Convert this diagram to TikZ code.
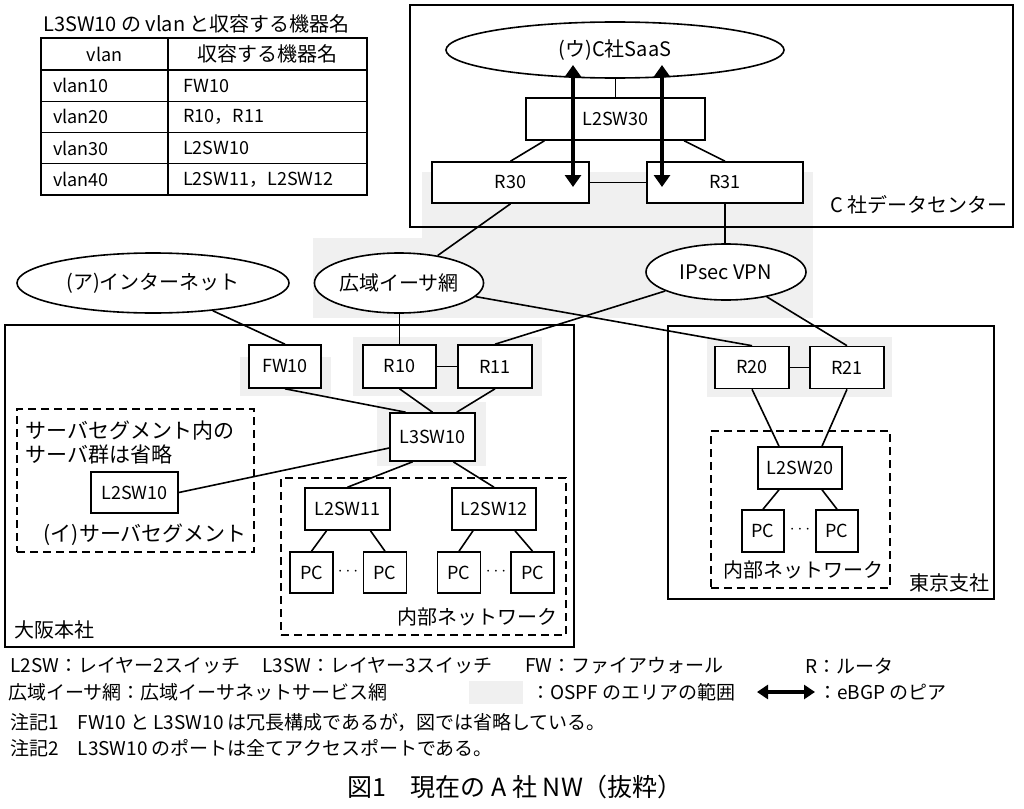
\documentclass[tikz,border=0pt]{standalone}
\usepackage{fontspec}
\setmainfont{Noto Sans CJK JP}
\usetikzlibrary{arrows.meta,calc,shapes.geometric}
\begin{document}
\begin{tikzpicture}[x=1pt,y=-1pt]
\tikzset{
  lbl/.style={inner sep=0pt, font=\fontsize{18}{22}\selectfont},
  jp/.style={inner sep=0pt, font=\fontsize{20}{24}\selectfont},
  lg/.style={inner sep=0pt, font=\fontsize{19}{22}\selectfont},
  dev/.style={draw, line width=1.6pt, fill=white, inner sep=0pt, font=\fontsize{18}{22}\selectfont},
  cloud/.style={draw, ellipse, line width=1.6pt, fill=white, inner sep=0pt, font=\fontsize{20}{24}\selectfont},
  link/.style={line width=1.6pt},
  area/.style={draw, line width=1.6pt, inner sep=0pt},
  dbox/.style={draw, line width=1.6pt, dash pattern=on 8pt off 5pt, inner sep=0pt},
  ospf/.style={fill=black!6, draw=none},
  peer/.style={line width=3.5pt, {Triangle[length=12pt,width=16pt]}-{Triangle[length=12pt,width=16pt]}},
}
\useasboundingbox (0,0) rectangle (1024,808);
\fill[white] (0,0) rectangle (1024,808);

% OSPF area shading
\fill[ospf] (422,172) rectangle (813,240);
\fill[ospf] (313,238) rectangle (813,318);
\fill[ospf] (240,357) rectangle (331,396);
\fill[ospf] (353,337) rectangle (542,396);
\fill[ospf] (377,402) rectangle (486,466);
\fill[ospf] (707,337) rectangle (892,397);

% table
\node[jp, anchor=west] (ttl) at (43,24) {L3SW10 の vlan と収容する機器名};
\draw[line width=1.6pt] (41,38) rectangle (367,195);
\draw[line width=1.2pt] (168,38) -- (168,195);
\foreach \yy in {70,101.25,132.5,163.75} \draw[line width=1.2pt] (41,\yy) -- (367,\yy);
\node[lbl] (th1) at (104.5,54) {vlan};
\node[jp] (th2) at (267.5,54) {収容する機器名};
\node[lbl, anchor=west] (c11) at (53,85.6) {vlan10};
\node[lbl, anchor=west] (c12) at (183,85.6) {FW10};
\node[lbl, anchor=west] (c21) at (53,116.9) {vlan20};
\node[lbl, anchor=west] (c22) at (183,116.9) {R10，R11};
\node[lbl, anchor=west] (c31) at (53,148.1) {vlan30};
\node[lbl, anchor=west] (c32) at (183,148.1) {L2SW10};
\node[lbl, anchor=west] (c41) at (53,179.4) {vlan40};
\node[lbl, anchor=west] (c42) at (183,179.4) {L2SW11，L2SW12};

% containers
\node[area, minimum width=603pt, minimum height=222pt] (dc) at (711.5,116) {};
\node[area, minimum width=569pt, minimum height=322pt] (osaka) at (289.5,486) {};
\node[area, minimum width=326pt, minimum height=273pt] (tokyo) at (831,462.5) {};
\node[dbox, minimum width=237pt, minimum height=143pt] (srvseg) at (135.5,480.5) {};
\node[dbox, minimum width=285pt, minimum height=157pt] (inner1) at (423.5,556.5) {};
\node[dbox, minimum width=179pt, minimum height=157pt] (inner2) at (800.5,509.5) {};

% data center
\node[cloud, minimum width=338pt, minimum height=56pt] (saas) at (615,50) {(ウ)C社SaaS};
\node[dev, minimum width=179pt, minimum height=42pt] (l2sw30) at (615.5,119) {L2SW30};
\node[dev, minimum width=157pt, minimum height=41pt] (r30) at (510.5,182.5) {R30};
\node[dev, minimum width=156pt, minimum height=41pt] (r31) at (725,182.5) {R31};
\node[jp, anchor=east] (dcl) at (1008,205) {C 社データセンター};

% clouds
\node[cloud, minimum width=272pt, minimum height=60pt] (inet) at (153,283) {(ア)インターネット};
\node[cloud, minimum width=158pt, minimum height=60pt] (wan) at (399,283) {広域イーサ網};
\node[cloud, minimum width=160pt, minimum height=56pt] (vpn) at (726,272) {IPsec VPN};

% Osaka
\node[dev, minimum width=72pt, minimum height=43pt] (fw10) at (285,366.5) {FW10};
\node[dev, minimum width=73pt, minimum height=43pt] (r10) at (399.5,366.5) {R10};
\node[dev, minimum width=74pt, minimum height=43pt] (r11) at (495,366.5) {R11};
\node[dev, minimum width=85pt, minimum height=48pt] (l3sw10) at (432.5,437) {L3SW10};
\node[dev, minimum width=87pt, minimum height=41pt] (l2sw10) at (134.5,492.5) {L2SW10};
\node[dev, minimum width=85pt, minimum height=42pt] (l2sw11) at (347.5,509) {L2SW11};
\node[dev, minimum width=84pt, minimum height=42pt] (l2sw12) at (494,509) {L2SW12};
\node[dev, minimum width=43pt, minimum height=41pt] (pc1) at (311.5,572.5) {PC};
\node[dev, minimum width=43pt, minimum height=41pt] (pc2) at (385,572.5) {PC};
\node[dev, minimum width=43pt, minimum height=41pt] (pc3) at (459,572.5) {PC};
\node[dev, minimum width=43pt, minimum height=41pt] (pc4) at (532.5,572.5) {PC};
\node[lbl] (dots1) at (348,572) {$\cdots$};
\node[lbl] (dots2) at (496,572) {$\cdots$};
\node[jp, anchor=north west, align=left, font=\fontsize{21}{24}\selectfont] (srvnote) at (25,421) {サーバセグメント内の\\サーバ群は省略};
\node[jp, anchor=east, font=\fontsize{21}{24}\selectfont] (srvlbl) at (247,535) {(イ)サーバセグメント};
\node[jp, anchor=east] (in1lbl) at (558,617) {内部ネットワーク};
\node[jp, anchor=west] (osakalbl) at (14,630) {大阪本社};

% Tokyo
\node[dev, minimum width=74pt, minimum height=42pt] (r20) at (752,367.5) {R20};
\node[dev, minimum width=74pt, minimum height=42pt] (r21) at (847,367.5) {R21};
\node[dev, minimum width=84pt, minimum height=42pt] (l2sw20) at (800,468) {L2SW20};
\node[dev, minimum width=42pt, minimum height=42pt] (pc5) at (763,531) {PC};
\node[dev, minimum width=42pt, minimum height=42pt] (pc6) at (837,531) {PC};
\node[lbl] (dots3) at (800,530) {$\cdots$};
\node[jp, anchor=east] (in2lbl) at (884,570) {内部ネットワーク};
\node[jp, anchor=east] (tokyolbl) at (990,583) {東京支社};

% links
\draw[link] (l2sw30.north) -- (l2sw30.north |- saas.south);
\draw[link] ($(l2sw30.south west)!0.106!(l2sw30.south east)$) -- (r30.north);
\draw[link] ($(l2sw30.south west)!0.88!(l2sw30.south east)$) -- (r31.north);
\draw[link] (r30.east) -- (r31.west);
\draw[link] (r30.south) -- (wan);
\draw[link] (r31.south) -- (r31.south |- vpn.north);
\draw[link] (inet) -- (fw10.north);
\draw[link] (r10.north) -- (r10.north |- wan.south);
\draw[link] (wan) -- (r20.north);
\draw[link] (vpn) -- (r11.north);
\draw[link] (vpn) -- (r21.north);
\draw[link] (r10.east) -- (r11.west);
\draw[link] (r20.east) -- (r21.west);
\draw[link] (fw10.south) -- ($(l3sw10.north west)!0.19!(l3sw10.north east)$);
\draw[link] (r10.south) -- (l3sw10.north);
\draw[link] (r11.south) -- ($(l3sw10.north west)!0.78!(l3sw10.north east)$);
\draw[link] ($(l3sw10.west)+(0,11)$) -- (l2sw10.east);
\draw[link] ($(l3sw10.south west)!0.27!(l3sw10.south east)$) -- (l2sw11.north);
\draw[link] ($(l3sw10.south west)!0.74!(l3sw10.south east)$) -- (l2sw12.north);
\draw[link] ($(l2sw11.south)+(-21,0)$) -- (pc1.north);
\draw[link] ($(l2sw11.south)+(23,0)$) -- (pc2.north);
\draw[link] ($(l2sw12.south)+(-21,0)$) -- (pc3.north);
\draw[link] ($(l2sw12.south)+(21,0)$) -- (pc4.north);
\draw[link] (r20.south) -- ($(l2sw20.north)+(-21,0)$);
\draw[link] (r21.south) -- ($(l2sw20.north)+(22,0)$);
\draw[link] ($(l2sw20.south)+(-21,0)$) -- (pc5.north);
\draw[link] ($(l2sw20.south)+(22,0)$) -- (pc6.north);

% eBGP peers
\coordinate (pa1) at (573,65);
\coordinate (pa2) at (573,187);
\coordinate (pb1) at (662,65);
\coordinate (pb2) at (662,187);
\draw[peer] (pa1) -- (pa2);
\draw[peer] (pb1) -- (pb2);

% legend
\node[lg, anchor=west] (lg1) at (10,666) {L2SW：レイヤー2スイッチ};
\node[lg, anchor=west] (lg2) at (262,666) {L3SW：レイヤー3スイッチ};
\node[lg, anchor=west] (lg3) at (525,666) {FW：ファイアウォール};
\node[lg, anchor=west] (lg4) at (805,666) {R：ルータ};
\node[lg, anchor=west] (lg5) at (8,692) {広域イーサ網：広域イーサネットサービス網};
\node[ospf, minimum width=54pt, minimum height=23pt, inner sep=0pt] (sw) at (496,692) {};
\node[lg, anchor=west] (lg6) at (531,692) {：OSPF のエリアの範囲};
\coordinate (la) at (757,692);
\coordinate (lb) at (815,692);
\draw[line width=3.5pt, {Triangle[length=11pt,width=14pt]}-{Triangle[length=11pt,width=14pt]}] (la) -- (lb);
\node[lg, anchor=west] (lg7) at (818,692) {：eBGP のピア};
\node[lg, anchor=west] (n1) at (10,722) {注記1　FW10 と L3SW10 は冗長構成であるが，図では省略している。};
\node[lg, anchor=west] (n2) at (10,748) {注記2　L3SW10 のポートは全てアクセスポートである。};
\node[inner sep=0pt, font=\fontsize{25}{28}\selectfont] (cap) at (515,787) {図1　現在の A 社 NW（抜粋）};
\end{tikzpicture}
\end{document}
